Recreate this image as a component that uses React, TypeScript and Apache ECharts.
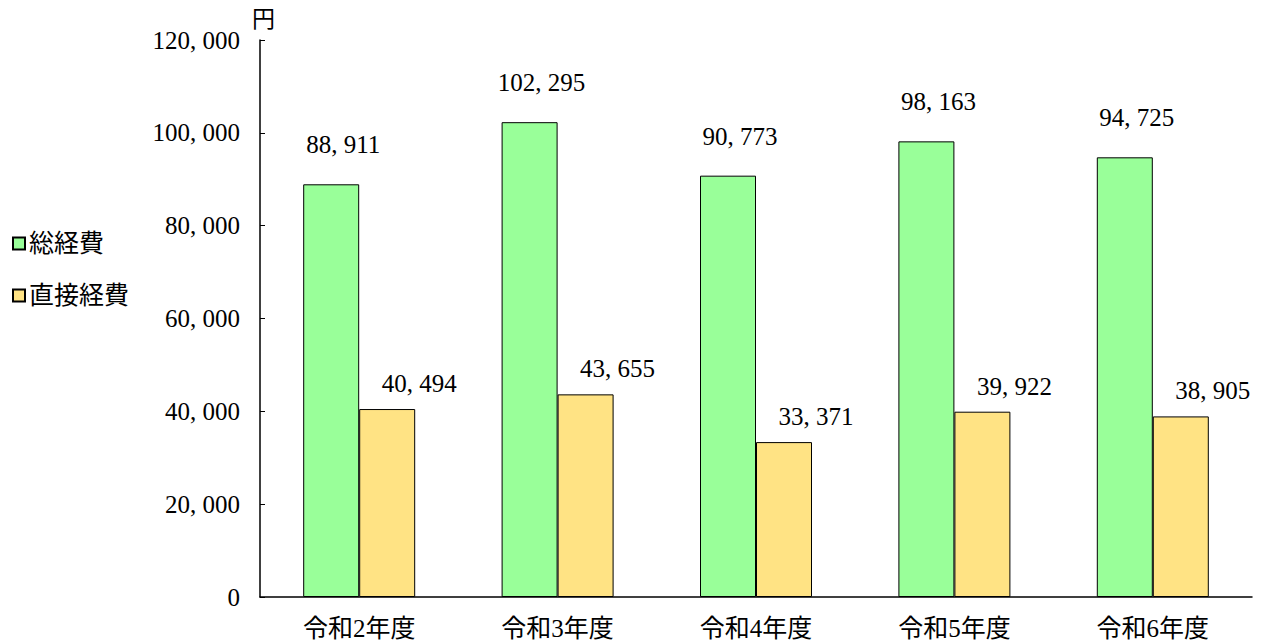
import React, { useEffect, useRef } from "react";
import * as echarts from "echarts";

const categories = ["令和2年度", "令和3年度", "令和4年度", "令和5年度", "令和6年度"];
const totalCost = [88911, 102295, 90773, 98163, 94725];
const directCost = [40494, 43655, 33371, 39922, 38905];
const seriesNames = ["総経費", "直接経費"];
const yMax = 120000;
const yInterval = 20000;

const FONT = "'Liberation Serif', 'Noto Sans CJK JP', serif";
const fmt = (v: number) => v.toLocaleString("en-US").replace(/,/g, ", ");

export default function App() {
  const ref = useRef<HTMLDivElement>(null);
  useEffect(() => {
    const chart = echarts.init(ref.current!, null, { renderer: "svg" });
    chart.setOption({
      animation: false,
      textStyle: { fontFamily: FONT },
      grid: { left: 260, right: 11, top: 40, bottom: 47 },
      legend: {
        orient: "vertical",
        left: 7,
        top: 226,
        itemWidth: 12,
        itemHeight: 12,
        itemGap: 27,
        icon: "rect",
        textStyle: { fontSize: 25, color: "#000", fontFamily: FONT, padding: [0, 0, 0, -1] },
        data: seriesNames,
      },
      xAxis: {
        type: "category",
        data: categories,
        axisLine: { lineStyle: { color: "#000", width: 1.5 } },
        axisTick: { inside: true, length: 6, lineStyle: { color: "#000" } },
        axisLabel: { fontSize: 25, color: "#000", margin: 19, fontFamily: FONT },
      },
      yAxis: {
        type: "value",
        min: 0,
        max: yMax,
        interval: yInterval,
        name: "円",
        nameGap: 9,
        nameTextStyle: { fontSize: 23, color: "#000", fontFamily: FONT, align: "left", padding: [0, 0, 0, -8] },
        splitLine: { show: false },
        axisLine: { show: true, lineStyle: { color: "#000", width: 1.5 } },
        axisTick: { show: true, inside: true, length: 5, lineStyle: { color: "#000" } },
        axisLabel: { fontSize: 25, color: "#000", margin: 20, fontFamily: FONT, formatter: (v: number) => fmt(v) },
      },
      series: [
        {
          name: seriesNames[0],
          type: "bar",
          data: totalCost,
          barWidth: 56,
          barGap: "0%",
          itemStyle: { color: "#99FF99", borderColor: "#000", borderWidth: 1 },
          label: {
            show: true,
            position: "top",
            offset: [12, -22],
            fontSize: 25,
            color: "#000",
            fontFamily: FONT,
            formatter: (p: any) => fmt(p.value),
          },
        },
        {
          name: seriesNames[1],
          type: "bar",
          data: directCost,
          barWidth: 56,
          itemStyle: { color: "#FFE384", borderColor: "#000", borderWidth: 1 },
          label: {
            show: true,
            position: "top",
            offset: [32, -8],
            fontSize: 25,
            color: "#000",
            fontFamily: FONT,
            formatter: (p: any) => fmt(p.value),
          },
        },
      ],
    });
    return () => chart.dispose();
  }, []);
  return <div ref={ref} style={{ width: 1263, height: 644, position: "absolute", left: 0, top: 0 }} />;
}
